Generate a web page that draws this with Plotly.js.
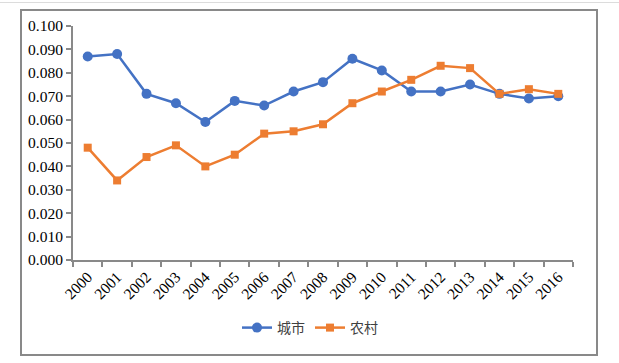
<!DOCTYPE html>
<html>
<head>
<meta charset="utf-8">
<script src="https://cdn.plot.ly/plotly-3.0.1.min.js"></script>
<style>html,body{margin:0;padding:0;background:#fff;}#chart{width:619px;height:363px;}</style>
</head>
<body>
<div id="chart"></div>
<script>
var years = ["2000","2001","2002","2003","2004","2005","2006","2007","2008","2009","2010","2011","2012","2013","2014","2015","2016"];
var cityValues = [0.087,0.088,0.071,0.067,0.059,0.068,0.066,0.072,0.076,0.086,0.081,0.072,0.072,0.075,0.071,0.069,0.070];
var ruralValues = [0.048,0.034,0.044,0.049,0.040,0.045,0.054,0.055,0.058,0.067,0.072,0.077,0.083,0.082,0.071,0.073,0.071];
var yTicks = [0,0.01,0.02,0.03,0.04,0.05,0.06,0.07,0.08,0.09,0.10];

var L = 73, R = 573, T = 26, B = 260, W = 619, H = 363;
function px(x){return (x-L)/(R-L);}
function py(y){return (B-y)/(B-T);}

var traces = [
  {x: years, y: cityValues, name: "城市", type: "scatter", mode: "lines+markers",
   line: {color: "#4472C4", width: 2.5}, marker: {symbol: "circle", size: 10, color: "#4472C4"}},
  {x: years, y: ruralValues, name: "农村", type: "scatter", mode: "lines+markers",
   line: {color: "#ED7D31", width: 2.5}, marker: {symbol: "square", size: 8, color: "#ED7D31"}}
];

var layout = {
  width: W, height: H,
  margin: {l: L, r: W-R, t: T, b: H-B, pad: 0},
  paper_bgcolor: "#fff", plot_bgcolor: "#fff",
  font: {family: "Liberation Serif, Times New Roman, serif", size: 15, color: "#000"},
  showlegend: true,
  hovermode: false,
  xaxis: {
    type: "category", tickson: "boundaries", ticks: "outside", ticklen: 5, tickwidth: 2, tickcolor: "#898989",
    showline: true, linecolor: "#898989", linewidth: 2, showgrid: false, zeroline: false,
    tickangle: -45, tickfont: {size: 15.5}, range: [-0.5, 16.5]
  },
  yaxis: {
    range: [0, 0.1], tickvals: yTicks, ticktext: yTicks.map(function(v){return v.toFixed(3);}),
    ticks: "outside", ticklen: 5, tickwidth: 2, tickcolor: "#898989",
    showline: true, linecolor: "#898989", linewidth: 2, showgrid: false, zeroline: false,
    tickfont: {size: 15.5}
  },
  legend: {orientation: "h", x: px(310), xanchor: "center", y: py(328), yanchor: "middle",
    font: {size: 14, family: "Noto Sans CJK SC, serif", color: "#404040"}, itemwidth: 30, bgcolor: "rgba(0,0,0,0)"},
  shapes: [
    {type: "rect", xref: "paper", yref: "paper", x0: px(21), x1: px(597), y0: py(355), y1: py(10),
     line: {color: "#898989", width: 2}, fillcolor: "rgba(0,0,0,0)", layer: "below"},
    {type: "line", xref: "paper", yref: "paper", x0: px(0), x1: px(619), y0: py(2.5), y1: py(2.5),
     line: {color: "#dcdcdc", width: 1}}
  ]
};

Plotly.newPlot("chart", traces, layout, {displayModeBar: false, staticPlot: true});
</script>
</body>
</html>
